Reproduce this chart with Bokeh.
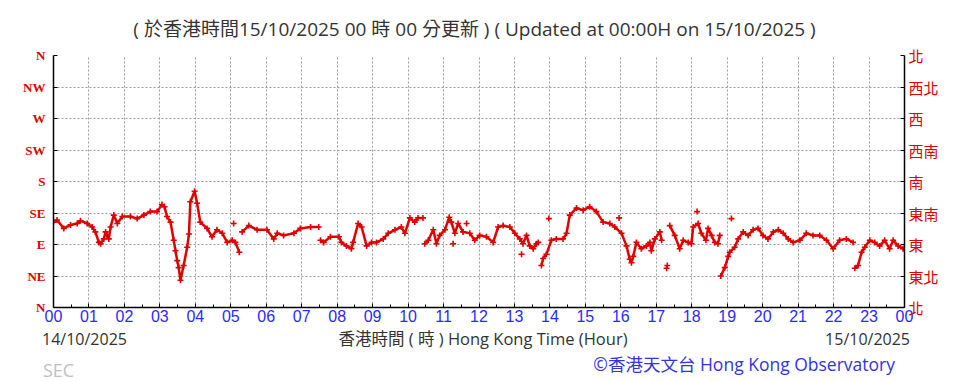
from bokeh.plotting import figure
from bokeh.models import FixedTicker, LinearAxis, Range1d, Div
from bokeh.layouts import column
from bokeh.core.properties import value
from bokeh.embed import file_html
from bokeh.resources import INLINE

nan = float("nan")

# Wind direction readings (hour of day, degrees); NaN marks a gap in the record
hours = [
    0.00, 0.10, 0.29, 0.48, 0.67, 0.76, 0.95, 1.09, 1.18, 1.28, 1.33, 1.42, 1.47, 1.51, 1.56,
    1.61, 1.70, 1.80, 1.94, 2.17, 2.36, 2.55, 2.73, 2.92, 3.06, 3.13, 3.20, 3.30, 3.39, 3.44,
    3.49, 3.53, 3.58, 3.67, 3.77, 3.82, 3.86, 3.98, 4.05, 4.14, 4.33, 4.47, 4.61, 4.76, 4.90,
    5.04, 5.13, 5.24, nan,
    5.32, 5.51, 5.74, 6.02, 6.21, 6.31, 6.49, 6.78, 6.96, 7.25, 7.48, nan,
    7.53, 7.62, 7.81, 8.05, 8.12, 8.26, 8.40, 8.45, 8.59, 8.69, 8.83, 8.97, 9.11, 9.30, 9.44,
    9.63, 9.81, 9.91, 10.05, 10.19, 10.28, 10.42, nan,
    10.47, 10.57, 10.71, 10.80, 10.89, 11.04, 11.16, 11.22, 11.32, 11.41, 11.55, 11.74, 11.88,
    12.02, 12.21, 12.40, 12.54, 12.68, 12.87, 13.01, 13.15, 13.24, 13.34, 13.43, 13.53, 13.62,
    13.67, nan,
    13.76, 13.81, 13.90, 14.04, 14.18, 14.37, 14.47, 14.56, 14.75, 14.94, 15.12, 15.31, 15.50,
    15.69, 15.83, 16.02, 16.16, 16.25, 16.30, 16.35, 16.44, 16.58, 16.72, 16.82, 16.86, 16.96,
    17.10, 17.15, nan,
    17.38, 17.52, 17.66, 17.76, 17.90, 17.99, 18.04, 18.18, 18.27, 18.40, 18.46, 18.56, 18.65,
    18.74, 18.79, nan,
    18.82, 18.93, 19.03, 19.07, 19.21, 19.31, 19.45, 19.59, 19.73, 19.87, 20.01, 20.15, 20.30,
    20.44, 20.58, 20.72, 20.86, 21.05, 21.23, 21.42, 21.61, 21.80, 21.99, 22.17, 22.36, 22.55, nan,
    22.60, 22.69, 22.79, 22.88, 23.02, 23.16, 23.30, 23.44, 23.58, 23.68, 23.82, 23.96,
]
direction_deg = [
    122, 125, 113, 118, 120, 124, 120, 115, 108, 93, 91, 98, 108, 103, 98,
    115, 132, 120, 130, 130, 127, 132, 137, 137, 147, 144, 130, 122, 96, 81,
    67, 57, 39, 60, 86, 105, 151, 166, 149, 122, 113, 101, 111, 106, 93,
    96, 93, 79, nan,
    108, 117, 111, 111, 98, 106, 103, 106, 113, 115, 115, nan,
    96, 93, 101, 101, 93, 88, 84, 93, 120, 115, 88, 93, 93, 98, 106,
    111, 115, 106, 128, 122, 128, 128, nan,
    91, 96, 111, 91, 103, 111, 129, 122, 106, 120, 108, 106, 96,
    103, 101, 93, 115, 117, 115, 106, 98, 91, 103, 88, 84, 91,
    93, nan,
    60, 70, 76, 96, 98, 98, 106, 132, 142, 139, 144, 137, 122,
    120, 115, 106, 88, 69, 64, 73, 93, 84, 88, 93, 81, 98,
    108, 96, nan,
    117, 103, 84, 96, 93, 91, 115, 120, 106, 96, 113, 103, 93,
    91, 103, nan,
    45, 57, 73, 79, 86, 98, 108, 103, 111, 113, 103, 98, 108,
    111, 106, 98, 93, 96, 106, 103, 103, 96, 84, 96, 98, 93, nan,
    56, 60, 79, 86, 96, 93, 88, 96, 84, 96, 88, 84,
]
# Stray single readings away from the main trace
stray_hours = [5.08, 11.27, 11.65, 13.20, 13.97, 15.95, 17.29, 17.31, 18.15, 19.12]
stray_deg = [120, 91, 120, 76, 127, 128, 56, 60, 137, 127]

dir_ticks = [0, 45, 90, 135, 180, 225, 270, 315, 360]
dir_labels_en = ["N", "NE", "E", "SE", "S", "SW", "W", "NW", "N"]
dir_labels_zh = ["北", "東北", "東", "東南", "南", "西南", "西", "西北", "北"]
hour_ticks = list(range(25))
hour_labels = ["%02d" % (h % 24) for h in hour_ticks]

title_text = "( 於香港時間15/10/2025 00 時 00 分更新 ) ( Updated at 00:00H on 15/10/2025 )"
start_date = "14/10/2025"
end_date = "15/10/2025"
axis_title = "香港時間 ( 時 ) Hong Kong Time (Hour)"
source_text = "SEC"
credit_text = "©香港天文台 Hong Kong Observatory"

W = 964
HEAD_H, MAIN_H, FOOT_H = 40, 290, 51
FRAME_L, FRAME_R = 53, 904
RED = "#e00000"
BLUE = "#2b2bff"
TXT = "'Open Sans', 'Noto Sans CJK TC', sans-serif"

# header strip with the update time (its frame is aligned with the chart frame)
head = figure(width=W, height=HEAD_H, x_range=Range1d(FRAME_L, FRAME_R),
              y_range=Range1d(HEAD_H, 0), output_backend="svg", toolbar_location=None,
              x_axis_location=None, y_axis_location=None,
              min_border=0, min_border_left=0, min_border_right=0,
              min_border_top=0, min_border_bottom=0)
head.outline_line_color = None
head.grid.visible = False
head.text(x=[474], y=[28], text=[title_text], text_color="#333333", text_align="center",
          text_baseline="middle", text_font=value(TXT), text_font_size="19px")

# main chart
p = figure(width=W, height=MAIN_H, x_range=Range1d(0, 24), y_range=Range1d(0, 360),
           output_backend="svg", toolbar_location=None,
           min_border_left=FRAME_L, min_border_right=W - FRAME_R,
           min_border_top=15, min_border_bottom=23)
p.outline_line_color = None
p.background_fill_color = "white"
p.border_fill_color = "white"

xa = p.xaxis[0]
xa.ticker = FixedTicker(ticks=hour_ticks, minor_ticks=[h + 0.5 for h in range(24)])
xa.major_label_overrides = {t: l for t, l in zip(hour_ticks, hour_labels)}
xa.major_label_text_color = BLUE
xa.major_label_text_font = "Liberation Sans"
xa.major_label_text_font_size = "16px"
xa.major_label_standoff = 2
xa.major_tick_in = 4
xa.major_tick_out = 0
xa.minor_tick_in = 3
xa.minor_tick_out = 0
xa.axis_line_color = "black"
xa.axis_line_width = 1.5

ya = p.yaxis[0]
ya.ticker = FixedTicker(ticks=dir_ticks)
ya.major_label_overrides = {t: l for t, l in zip(dir_ticks, dir_labels_en)}
ya.major_label_text_color = RED
ya.major_label_text_font = "Liberation Serif"
ya.major_label_text_font_style = "bold"
ya.major_label_text_font_size = "13px"
ya.major_label_standoff = 8
ya.major_tick_in = 4
ya.major_tick_out = 0
ya.minor_tick_line_color = None
ya.axis_line_color = "black"
ya.axis_line_width = 1.5

ra = LinearAxis(ticker=FixedTicker(ticks=dir_ticks))
ra.major_label_overrides = {t: l for t, l in zip(dir_ticks, dir_labels_zh)}
ra.major_label_text_color = RED
ra.major_label_text_font = "Noto Sans CJK TC"
ra.major_label_text_font_size = "15px"
ra.major_label_standoff = 4
ra.major_tick_in = 4
ra.major_tick_out = 0
ra.minor_tick_line_color = None
ra.axis_line_color = "black"
ra.axis_line_width = 1.5
p.add_layout(ra, "right")

for g in (p.xgrid[0], p.ygrid[0]):
    g.grid_line_color = "#9a9a9a"
    g.grid_line_dash = "2 2"
    g.grid_line_width = 1

p.line(hours, direction_deg, line_color=RED, line_width=2.5)
p.scatter(hours, direction_deg, marker="cross", size=6, line_color=RED, line_width=1.6)
p.scatter(stray_hours, stray_deg, marker="cross", size=6, line_color=RED, line_width=1.6)

# footer with dates, axis title and credits (HTML text, positioned in page pixels)
def span(text, color, size, pos):
    return ('<span style="position:absolute;white-space:nowrap;line-height:1;'
            'font-family:%s;font-size:%s;color:%s;%s">%s</span>' % (TXT.replace("'", ""), size, color, pos, text))

foot_html = (
    '<div style="position:relative;width:%dpx;height:%dpx;">' % (W, FOOT_H)
    + span(start_date, "#333333", "16px", "left:42px;top:1px;")
    + span(axis_title, "#333333", "16.5px", "left:483px;top:1px;transform:translateX(-50%);")
    + span(end_date, "#333333", "16px", "right:54px;top:1px;")
    + span(source_text, "#c0c0c0", "18px", "left:43px;top:31px;")
    + span(credit_text, "#3434dd", "17.5px", "right:69px;top:26px;")
    + '</div>'
)
foot = Div(text=foot_html, width=W, height=FOOT_H, margin=0)

layout = column(head, p, foot, spacing=0)
open("out.html", "w").write(file_html(layout, INLINE))
